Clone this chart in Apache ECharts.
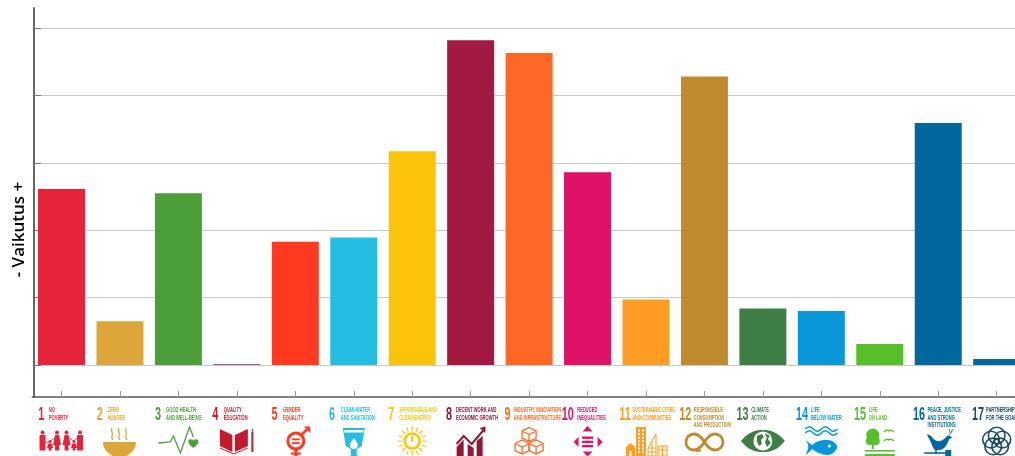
<!DOCTYPE html>
<html><head><meta charset="utf-8">
<style>html,body{margin:0;padding:0;background:#fff}#c{width:1015px;height:456px}</style>
<script src="https://cdn.jsdelivr.net/npm/echarts@6/dist/echarts.min.js"></script>
</head><body><div id="c"></div>
<script>
const goalNumbers = ['1','2','3','4','5','6','7','8','9','10','11','12','13','14','15','16','17'];
const goalNames = ['NO\nPOVERTY','ZERO\nHUNGER','GOOD HEALTH\nAND WELL-BEING','QUALITY\nEDUCATION','GENDER\nEQUALITY','CLEAN WATER\nAND SANITATION','AFFORDABLE AND\nCLEAN ENERGY','DECENT WORK AND\nECONOMIC GROWTH','INDUSTRY, INNOVATION\nAND INFRASTRUCTURE','REDUCED\nINEQUALITIES','SUSTAINABLE CITIES\nAND COMMUNITIES','RESPONSIBLE\nCONSUMPTION\nAND PRODUCTION','CLIMATE\nACTION','LIFE\nBELOW WATER','LIFE\nON LAND','PEACE, JUSTICE\nAND STRONG\nINSTITUTIONS','PARTNERSHIPS\nFOR THE GOALS'];
const impactValues = [2.61,0.65,2.55,0.01,1.83,1.89,3.17,4.82,4.63,2.86,0.97,4.28,0.84,0.80,0.31,3.59,0.09];
const barColors = ['#E5243B','#DDA63A','#4C9F38','#A21942','#FF3A21','#26BDE2','#FCC30B','#A21942','#FD6925','#DD1367','#FD9D24','#BF8B2E','#3F7E44','#0A97D9','#56C02B','#00689D','#00689D'];
const textColors = ['#E5243B','#DDA63A','#4C9F38','#C5192D','#FF3A21','#26BDE2','#FCC30B','#8F1838','#FD6925','#DD1367','#FD9D24','#BF8B2E','#3F7E44','#0A97D9','#56C02B','#00689D','#19486A'];
const yTicks = [0,1,2,3,4,5];
const yAxisName = '- Vaikutus +';

const F=(d,c)=>({type:'path',shape:{pathData:d},style:{fill:c,stroke:null}});
const S=(d,c,w)=>({type:'path',shape:{pathData:d},style:{fill:'none',stroke:c,lineWidth:w}});
const C=(x,y,r,c)=>({type:'circle',shape:{cx:x,cy:y,r:r},style:{fill:c}});
const O=(x,y,r,c,w)=>({type:'circle',shape:{cx:x,cy:y,r:r},style:{fill:'none',stroke:c,lineWidth:w}});
const R=(x,y,w,h,c)=>({type:'rect',shape:{x:x,y:y,width:w,height:h},style:{fill:c}});
const adult=(x,c,dress)=>[C(x,432.5,2,c),dress?F(`M${x-2} 435L${x+2} 435L${x+4} 445L${x+2} 445L${x+2} 450.5L${x-2} 450.5L${x-2} 445L${x-4} 445Z`,c):R(x-3,435,6,15.5,c)];
const kid=(x,c)=>[C(x,441.5,1.5,c),F(`M${x-2} 443.5L${x+2} 443.5L${x+3} 448L${x+1.5} 448L${x+1.5} 450.5L${x-1.5} 450.5L${x-1.5} 448L${x-3} 448Z`,c)];
const iconBuilders = [
 c=>[...adult(-19,c),...kid(-11.5,c),...adult(-4.5,c,1),...adult(5,c,1),...kid(12.5,c),...adult(18.5,c),S('M-22 445L-11 441M-11 441L-4 436M5 436L12 441L18 436',c,.8)],
 c=>[F('M-17 442L16 442C16 450 9 456 3 457L-4 457C-10 456 -17 450 -17 442Z',c),S('M-8 428C-10 431 -6 433 -8 436C-9 438 -8 439 -7 440',c,1.3),S('M-1 428C-3 431 1 433 -1 436C-2 438 -1 439 0 440',c,1.3),S('M6 428C4 431 8 433 6 436C5 438 6 439 7 440',c,1.3)],
 c=>[S('M-20 443L-8 442L-5 436L2 453L11 427L15 437',c,1.3),F('M15 448C11 445 10 443 10 441.5C10 439 13 438.5 15 440.5C17 438.5 20 439 20 441.5C20 443 19 445 15 448Z',c)],
 c=>[F('M-17 429L-4.5 435L-4.5 452L-17 446Z',c),F('M-2 435L11 429L11 446L-2 452Z',c),S('M-17 448L-3 454L11 448',c,1),R(14.5,432,2,20,c),F('M14.5 431.5L15.5 428L16.5 431.5Z',c)],
 c=>[O(0.5,441,8,c,3),R(-3.5,438.5,8,1.8,c),R(-3.5,442.2,8,1.8,c),S('M6 435L13 428',c,2.6),F('M8.5 426.5L15 426.5L15 433Z',c),R(-1,450,3,7,c),R(-4.5,452.5,10,2.2,c)],
 c=>[F('M-11 428L11 428L8 446L3 449L3 456L-3 456L-3 449L-8 446Z',c),R(-9.5,430,19,2.5,'#fff'),F('M0 438C-2 441 -4 443 -4 445C-4 447.5 -2 449 0 449C2 449 4 447.5 4 445C4 443 2 441 0 438Z','#fff')],
 c=>[O(0,441,7.5,c,2.6),R(-1,436,2,6,c),S('M0 426.5L0 431M0 451L0 455.5M-14.5 441L-10 441M10 441L14.5 441M-10.3 430.7L-7 434M10.3 430.7L7 434M-10.3 451.3L-7 448M10.3 451.3L7 448M-5.5 427.5L-3.8 431.5M5.5 427.5L3.8 431.5M-13.5 435.5L-9.5 437M13.5 435.5L9.5 437M-13.5 446.5L-9.5 445M13.5 446.5L9.5 445M-5.5 454.5L-3.8 450.5M5.5 454.5L3.8 450.5',c,1.2)],
 c=>[F('M-14 447L-7 439.5L-7 456L-14 456Z',c),F('M-3 444L3 448L3 456L-3 456Z',c),F('M6 441L12 436L12 456L6 456Z',c),S('M-14 444L-7 436L1 444L13 430',c,2),F('M9 428L15 426.5L14.5 433Z',c)],
 c=>[[0,434.5],[-7,447],[7,447]].map(p=>S(`M${p[0]} ${p[1]-7}L${p[0]+7} ${p[1]-3.5}L${p[0]+7} ${p[1]+3.5}L${p[0]} ${p[1]+7}L${p[0]-7} ${p[1]+3.5}L${p[0]-7} ${p[1]-3.5}ZM${p[0]-7} ${p[1]-3.5}L${p[0]} ${p[1]}L${p[0]+7} ${p[1]-3.5}M${p[0]} ${p[1]}L${p[0]} ${p[1]+7}`,c,1.3)),
 c=>[F('M0 426L5 431.5L-5 431.5Z',c),F('M0 456.5L5 451.5L-5 451.5Z',c),F('M-14 442L-9 437L-9 447Z',c),F('M15 442L10 437L10 447Z',c),R(-5.5,436.5,11,2.4,c),R(-5.5,440.7,11,2.4,c),R(-5.5,445,11,2.4,c)],
 c=>[R(-10,427,10,29,c),...[0,1,2,3,4,5,6].flatMap(r=>[R(-8,429.5+r*3.6,2,2,'#fff'),R(-4,429.5+r*3.6,2,2,'#fff')]),F('M-20 447L-15.5 443L-11 447L-11 456L-20 456Z',c),R(-16.5,451,2,5,'#fff'),S('M2 456L2 448L10 434L10 456ZM2 448L10 448M2 452L10 452M6 441L6 456',c,1),S('M12 446L21 446L21 456L12 456ZM12 450L21 450M16.5 446L16.5 456',c,1.1)],
 c=>[S('M0 442C-3 437 -7 434 -10.5 434C-15 434 -18.5 437.5 -18.5 442C-18.5 446.5 -15 450 -10.5 450C-7 450 -3 447 0 442C3 437 7 434 10.5 434C15 434 18.5 437.5 18.5 442C18.5 446.5 15 450 10.5 450C7 450 3 447 0 442',c,2.8),F('M-6 446L-3 451.5L-9 452Z',c)],
 c=>[F('M-22 441C-14 431 -6 430 0 430C6 430 14 431 22 441C14 451 6 452 0 452C-6 452 -14 451 -22 441Z',c),C(0,441,9.5,'#fff'),F('M-6 436L-1 434L1 437L-2 440L-1 444L-4 446L-6 441Z',c),F('M2 433L7 436L5 439L8 443L4 447L2 442L4 438Z',c)],
 c=>[S('M-16 429C-13 426 -11 426 -8 429C-5 432 -3 432 0 429C3 426 5 426 8 429C11 432 13 432 16 429',c,1.7),S('M-16 433C-13 430 -11 430 -8 433C-5 436 -3 436 0 433C3 430 5 430 8 433C11 436 13 436 16 433',c,1.7),F('M-16 440C-13 442 -11 444 -9 445C-4 440 2 440 6 440C11 440 15 443 16 447C15 451 11 455 6 455C1 455 -4 453 -9 449C-11 451 -13 453 -16 455C-14 451 -13 449 -13 447C-13 445 -14 442 -16 440Z',c),C(8,446,1.5,'#fff')],
 c=>[C(-7,435,6.5,c),C(-10,441,4,c),C(-4,441,4,c),R(-8,443,2,6,c),S('M4 432C6 430 8 430 9 431C10 430 12 430 14 432M4 441C6 439 8 439 9 440C10 439 12 439 14 441',c,1.2),R(-15,450,30,1.6,c),R(-15,454,30,2,c)],
 c=>[F('M-11 434L-7 436C-3 443 3 442 7 438C8 436 10 435 12 436L14 438L11 439C9 445 6 449 2 450L-3 450C-6 448 -6 444 -8 441C-9 439 -11 436 -11 434Z',c),S('M11 435L14 431M12 433L11 429M13 432L15 429',c,.8),S('M-14 453L12 453',c,1.6),R(7,450,6,6,c),R(-3,450,1.5,4,c)],
 c=>[O(0,435.5,8.3,c,1.6),O(5.7,439.6,8.3,c,1.6),O(3.5,446.4,8.3,c,1.6),O(-3.5,446.4,8.3,c,1.6),O(-5.7,439.6,8.3,c,1.6)]
];
const renderGoalLabel=(params,api)=>{
 const numOffset=[-23.3,-23.3,-23.3,-24.7,-23.7,-24.7,-24,-24.7,-24.7,-25.7,-26.7,-25.3,-26.3,-25.3,-25.7,-25.3,-24.7];
 const textOffset=[-12.7,-12.3,-12.3,-13,-12.3,-13,-13,-14.7,-15.3,-10.3,-13.7,-10.7,-11.7,-10.3,-11,-10.7,-10.7];
 const i=api.value(0), cx=api.coord([i,0])[0], col=textColors[i], num=goalNumbers[i];
 const kids=[{type:'text',x:numOffset[i],y:405,scaleX:.57,style:{text:num,x:0,y:0,fill:col,font:'bold 19px "Liberation Sans"',textVerticalAlign:'top'}}];
 goalNames[i].split('\n').forEach((l,k)=>kids.push({type:'text',x:textOffset[i],y:406.8+k*7.5,scaleX:.58,style:{text:l,x:0,y:0,fill:col,font:'bold 7px "Liberation Sans"',textVerticalAlign:'top'}}));
 return {type:'group',x:cx,y:0,children:kids.concat(iconBuilders[i](col))};
};
const chart=echarts.init(document.getElementById('c'),null,{renderer:'canvas'});
chart.setOption({
 animation:false,
 grid:{left:32.3,top:8,width:993.6,height:389,outerBoundsMode:'none',containLabel:false},
 xAxis:{type:'category',data:goalNumbers,axisLine:{onZero:false,lineStyle:{color:'#555',width:1.5}},axisTick:{show:true,alignWithLabel:true,inside:true,length:6,lineStyle:{color:'#999',width:1}},axisLabel:{show:false},splitLine:{show:false}},
 yAxis:{type:'value',min:-0.475,max:5.297,offset:-1.7,
  name:yAxisName,nameLocation:'middle',nameRotate:90,nameGap:6,nameTextStyle:{color:'#000',fontFamily:'"Open Sans"',fontSize:17,fontWeight:600,padding:[0,54,0,0]},
  axisLine:{show:true,onZero:false,lineStyle:{color:'#666',width:2}},axisTick:{show:true,inside:true,length:7,customValues:yTicks,lineStyle:{color:'#777',width:1}},axisLabel:{show:false},splitLine:{show:true,lineStyle:{color:'#c8c8c8',width:1}}},
 series:[
  {type:'bar',barWidth:47,data:impactValues.map((v,i)=>({value:v,itemStyle:{color:barColors[i]}})),silent:true},
  {type:'custom',coordinateSystem:'cartesian2d',clip:false,silent:true,data:goalNumbers.map((_,i)=>[i,0]),encode:{x:0,y:1},renderItem:renderGoalLabel}
 ]
});
</script></body></html>
